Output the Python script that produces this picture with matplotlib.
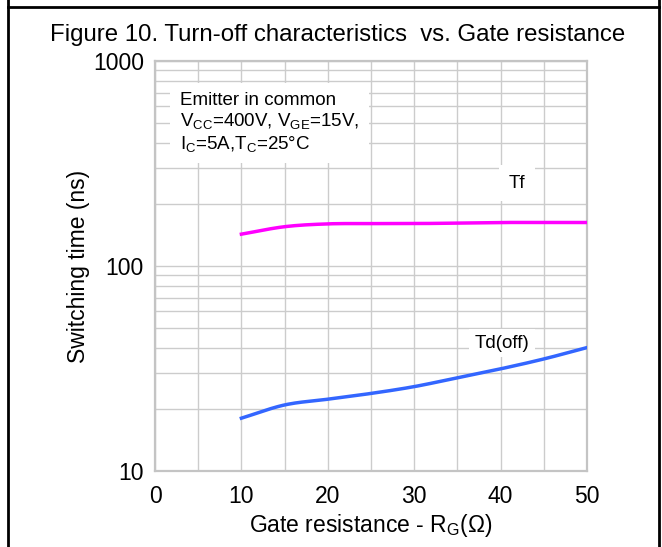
import matplotlib
matplotlib.use("Agg")
import matplotlib.pyplot as plt
import numpy as np
from matplotlib.lines import Line2D

plt.rcParams['font.family'] = ['Liberation Sans', 'DejaVu Sans']
plt.rcParams['mathtext.fontset'] = 'custom'
plt.rcParams['mathtext.rm'] = 'Liberation Sans'
plt.rcParams['mathtext.it'] = 'Liberation Sans'

# Data
rg = [10, 15, 20, 25, 30, 35, 40, 45, 50]
tf = [143, 155.5, 160.5, 161, 161, 162, 163, 163, 163]
td_off = [18.1, 21.0, 22.4, 23.9, 25.8, 28.5, 31.5, 35.2, 40.0]
yticks = [10, 100, 1000]

fig = plt.figure(figsize=(6.62, 5.47), dpi=100)
ax = fig.add_axes([155/662, 1-471/547, (587-155)/662, (471-61)/547])

ax.set_yscale('log')
ax.set_xlim(0, 50)
ax.set_ylim(10, 1000)

def smooth(x, y):
    ly = np.log10(y)
    n = len(x)
    xs, ys = [], []
    for i in range(n - 1):
        x0, x1 = x[i], x[i+1]
        p1, p2 = ly[i], ly[i+1]
        p0 = ly[i-1] if i > 0 else 2*p1 - p2
        p3 = ly[i+2] if i + 2 < n else 2*p2 - p1
        t = np.linspace(0, 1, 25, endpoint=(i == n - 2))
        seg = 0.5 * ((2*p1) + (-p0 + p2)*t + (2*p0 - 5*p1 + 4*p2 - p3)*t**2 + (-p0 + 3*p1 - 3*p2 + p3)*t**3)
        xs.append(x0 + (x1 - x0)*t)
        ys.append(seg)
    return np.concatenate(xs), 10**np.concatenate(ys)

ax.set_xticks(np.arange(0, 51, 5))
ax.set_xticklabels(['0', '', '10', '', '20', '', '30', '', '40', '', '50'])
ax.set_yticks(yticks)
ax.set_yticklabels([str(v) for v in yticks])
ax.yaxis.set_minor_locator(matplotlib.ticker.LogLocator(base=10, subs=np.arange(2, 10)))
ax.yaxis.set_minor_formatter(matplotlib.ticker.NullFormatter())
ax.tick_params(which='both', length=0, labelsize=16.5, colors='black')
ax.tick_params(axis='x', pad=10)
ax.tick_params(axis='y', pad=8)
ax.grid(True, which='both', color='#cccccc', linewidth=1.0)
ax.set_axisbelow(True)
for s in ax.spines.values():
    s.set_color('#c4c4c4')
    s.set_linewidth(1.6)

x1, y1 = smooth(rg, tf)
x2, y2 = smooth(rg, td_off)
ax.plot(x1, y1, color='#ff00ff', linewidth=2.5, zorder=3)
ax.plot(x2, y2, color='#3366ff', linewidth=2.5, zorder=3)

ax.set_xlabel('Gate resistance - R$_\\mathrm{G}$(Ω)', fontsize=16.5, labelpad=3)
ax.set_ylabel('Switching time (ns)', fontsize=16.5)
ax.yaxis.set_label_coords(-(155-90)/432, 0.5)

ax.text(2.9, 705, 'Emitter in common\nV$_\\mathrm{CC}$=400V, V$_\\mathrm{GE}$=15V,\nI$_\\mathrm{C}$=5A,T$_\\mathrm{C}$=25°C',
        fontsize=13.5, va='top', ha='left', linespacing=1.15, zorder=4,
        bbox=dict(facecolor='white', edgecolor='none', pad=7))
ax.text(41.9, 254, 'Tf', fontsize=13.5, ha='center', va='center', zorder=4,
        bbox=dict(facecolor='white', edgecolor='none', pad=7))
ax.text(40.2, 42.1, 'Td(off)', fontsize=13.5, ha='center', va='center', zorder=4,
        bbox=dict(facecolor='white', edgecolor='none', pad=4))

fig.text(338/662, 1-35/547, 'Figure 10. Turn-off characteristics  vs. Gate resistance',
         fontsize=17.3, ha='center', va='center')

# outer frame
for (xa, ya) in [([8/662, 8/662], [0, 1]), ([659/662, 659/662], [0, 1]), ([8/662, 659/662], [1-7/547, 1-7/547])]:
    fig.add_artist(Line2D(xa, ya, color='black', linewidth=2, transform=fig.transFigure))

fig.savefig('out.png', dpi=100)
